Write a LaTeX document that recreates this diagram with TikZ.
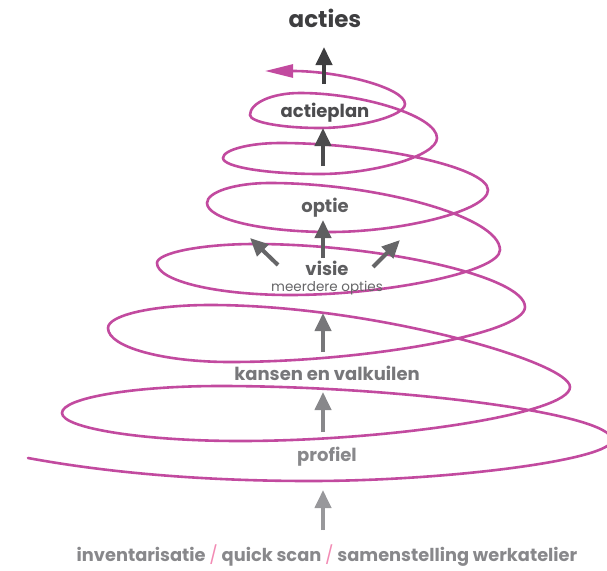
\documentclass[tikz,border=0pt]{standalone}
\usepackage{fontspec}
\setmainfont{Poppins}
\usetikzlibrary{arrows.meta}
\definecolor{spiral}{HTML}{C24A9F}
\definecolor{slash}{HTML}{F28BB4}
\definecolor{ga}{HTML}{3E3E40}
\definecolor{gb}{HTML}{4C4C4E}
\definecolor{gc}{HTML}{5E5E60}
\definecolor{gd}{HTML}{666668}
\definecolor{ge}{HTML}{77777A}
\definecolor{gf}{HTML}{88888B}
\definecolor{gg}{HTML}{98989B}
\begin{document}
\begin{tikzpicture}[x=1pt,y=-1pt,
  spir/.style={draw=spiral, line width=2.6pt, line cap=round},
  garrow/.style={line width=4pt, -{Triangle[length=18pt,width=16pt]}},
  lbl/.style={inner sep=0pt, font=\bfseries\fontsize{18}{21}\selectfont}]
\useasboundingbox (0,0) rectangle (607,570);

% spiral key points
\coordinate (S) at (28,458);
\coordinate (B0) at (310,481);
\coordinate (R0) at (612,440);
\coordinate (T1) at (220,386); \coordinate (L1) at (62,413);  \coordinate (B1) at (240,441); \coordinate (R1) at (570,387);
\coordinate (T2) at (210,305); \coordinate (L2) at (108,328); \coordinate (B2) at (230,362); \coordinate (R2) at (525,307);
\coordinate (T3) at (255,244); \coordinate (L3) at (157,263); \coordinate (B3) at (290,295); \coordinate (R3) at (500,250);
\coordinate (T4) at (270,183); \coordinate (L4) at (207,203); \coordinate (B4) at (330,232); \coordinate (R4) at (488,190);
\coordinate (T5) at (280,143); \coordinate (L5) at (223,158); \coordinate (B5) at (320,174); \coordinate (R5) at (437,138);
\coordinate (T6) at (300,93);  \coordinate (L6) at (250,115); \coordinate (B6) at (320,128); \coordinate (R6) at (405,104);
\coordinate (E) at (265,71);

\draw[spir, -{Triangle[length=28pt,width=13pt]}]
  (S) .. controls (120,475) and (220,481) .. (B0)
      .. controls (446,481) and (612,460) .. (R0)
      .. controls (612,413) and (396,386) .. (T1)
      .. controls (133,386) and (62,398) .. (L1)
      .. controls (62,428) and (142,441) .. (B1)
      .. controls (389,441) and (570,414) .. (R1)
      .. controls (570,362) and (372,305) .. (T2)
      .. controls (154,305) and (108,315) .. (L2)
      .. controls (108,347) and (163,362) .. (B2)
      .. controls (363,362) and (525,334) .. (R2)
      .. controls (525,276) and (377,244) .. (T3)
      .. controls (201,244) and (157,253) .. (L3)
      .. controls (157,281) and (217,295) .. (B3)
      .. controls (385,295) and (500,272) .. (R3)
      .. controls (500,216) and (374,183) .. (T4)
      .. controls (235,183) and (207,192) .. (L4)
      .. controls (207,219) and (262,232) .. (B4)
      .. controls (401,232) and (488,211) .. (R4)
      .. controls (488,167) and (374,143) .. (T5)
      .. controls (249,143) and (223,150) .. (L5)
      .. controls (223,167) and (267,174) .. (B5)
      .. controls (373,174) and (437,156) .. (R5)
      .. controls (437,116) and (362,93) .. (T6)
      .. controls (272,93) and (250,103) .. (L6)
      .. controls (250,122) and (281,128) .. (B6)
      .. controls (358,128) and (405,116) .. (R6)
      .. controls (405,88) and (340,71) .. (E);

% labels
\node[lbl, text=ga, font=\bfseries\fontsize{23}{27}\selectfont] (acties) at (325,18) {acties};
\node[lbl, text=gb] (actieplan) at (325,113) {actieplan};
\node[lbl, text=gc] (optie) at (325,208) {optie};
\node[lbl, text=gc] (visie) at (327,268) {visie};
\node[inner sep=0pt, text=gd, font=\fontsize{13.5}{16}\selectfont] (meer) at (327,288.5) {meerdere opties};
\node[lbl, text=ge] (kansen) at (327,373) {kansen en valkuilen};
\node[lbl, text=gf] (profiel) at (327,457) {profiel};
\node[lbl, text=gf, font=\bfseries\fontsize{17.8}{21}\selectfont] (basis) at (327,556)
  {inventarisatie \textcolor{slash}{\mdseries/} quick scan \textcolor{slash}{\mdseries/} samenstelling werkatelier};

% arrow end points
\coordinate (a1s) at (324,84);  \coordinate (a1e) at (324,47);
\coordinate (a2s) at (323,166); \coordinate (a2e) at (323,128);
\coordinate (a3s) at (323,258); \coordinate (a3e) at (323,220);
\coordinate (dls) at (278,265); \coordinate (dle) at (250,238);
\coordinate (drs) at (373,267); \coordinate (dre) at (400,240);
\coordinate (a4s) at (323,352); \coordinate (a4e) at (323,313);
\coordinate (a5s) at (323,432); \coordinate (a5e) at (323,392);
\coordinate (a6s) at (323,530); \coordinate (a6e) at (323,490);

\draw[garrow, draw=ga, fill=ga] (a1s) -- (a1e);
\draw[garrow, draw=gb, fill=gb] (a2s) -- (a2e);
\draw[garrow, draw=gc, fill=gc] (a3s) -- (a3e);
\draw[garrow, draw=gd, fill=gd] (dls) -- (dle);
\draw[garrow, draw=gd, fill=gd] (drs) -- (dre);
\draw[garrow, draw=ge, fill=ge] (a4s) -- (a4e);
\draw[garrow, draw=gf, fill=gf] (a5s) -- (a5e);
\draw[garrow, draw=gg, fill=gg] (a6s) -- (a6e);
\end{tikzpicture}
\end{document}
